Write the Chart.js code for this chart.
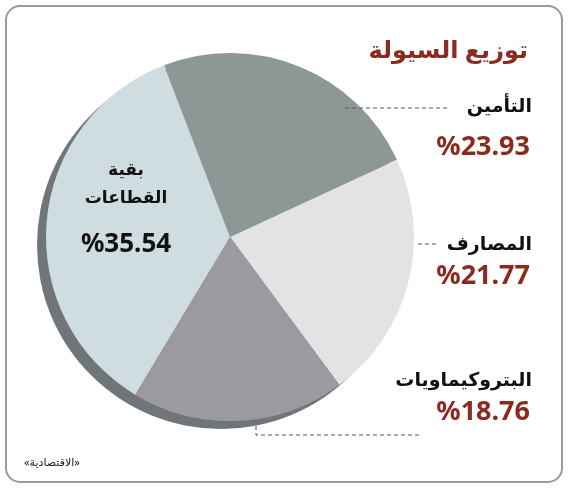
<!DOCTYPE html>
<html><head><meta charset="utf-8">
<script src="https://cdn.jsdelivr.net/npm/chart.js@4"></script>
<style>html,body{margin:0;padding:0;background:#fff}#wrap{width:569px;height:489px;position:relative}</style>
</head><body><div id="wrap"><canvas id="c" width="569" height="489"></canvas></div>
<script>
const sectors = ["التأمين", "المصارف", "البتروكيماويات", "بقية القطاعات"];
const shares = [23.93, 21.77, 18.76, 35.54];
const colors = ["#8d9896", "#e3e3e6", "#9b9b9f", "#cfdde1"];
const RED = "#8b2a1e";
const FONT = "'Noto Sans', 'DejaVu Sans', sans-serif";

const decor = {
  id: "decor",
  beforeDraw(chart) {
    const ctx = chart.ctx;
    ctx.save();
    ctx.fillStyle = "#fff";
    ctx.fillRect(0, 0, chart.width, chart.height);
    ctx.strokeStyle = "#9a9a9a";
    ctx.lineWidth = 2;
    ctx.beginPath();
    ctx.roundRect(6, 6, 556, 476, 14);
    ctx.stroke();
    ctx.restore();
  },
  beforeDatasetsDraw(chart) {
    const arc = chart.getDatasetMeta(0).data[0];
    const ctx = chart.ctx;
    ctx.save();
    ctx.fillStyle = "#6f7579";
    ctx.beginPath();
    ctx.arc(arc.x - 9, arc.y + 8, arc.outerRadius, 0, Math.PI * 2);
    ctx.fill();
    ctx.restore();
  },
  afterDraw(chart) {
    const ctx = chart.ctx;
    ctx.save();
    ctx.direction = "rtl";
    ctx.textAlign = "right";
    ctx.fillStyle = RED;
    ctx.font = "bold 24px " + FONT;
    ctx.fillText("توزيع السيولة", 528, 58);

    const rows = [
      { y: 112, py: 155 },
      { y: 250, py: 284 },
      { y: 386, py: 420 },
    ];
    rows.forEach((r, i) => {
      ctx.fillStyle = "#111";
      ctx.font = "bold 19px " + FONT;
      ctx.fillText(sectors[i], 532, r.y);
      ctx.fillStyle = RED;
      ctx.font = "bold 27px " + FONT;
      ctx.direction = "ltr";
      ctx.fillText("%" + shares[i].toFixed(2), 530, r.py);
      ctx.direction = "rtl";
    });

    ctx.fillStyle = "#111";
    ctx.textAlign = "center";
    ctx.font = "bold 17px " + FONT;
    ctx.fillText("بقية", 126, 175);
    ctx.fillText("القطاعات", 126, 203);
    ctx.font = "bold 26px " + FONT;
    ctx.direction = "ltr";
    ctx.fillText("%" + shares[3].toFixed(2), 126, 252);

    ctx.strokeStyle = "#555";
    ctx.lineWidth = 1;
    ctx.setLineDash([4, 3]);
    ctx.beginPath();
    ctx.moveTo(345, 108); ctx.lineTo(450, 108);
    ctx.moveTo(418, 244); ctx.lineTo(436, 244);
    ctx.moveTo(256, 426); ctx.lineTo(256, 435); ctx.lineTo(420, 435);
    ctx.stroke();
    ctx.setLineDash([]);

    ctx.direction = "rtl";
    ctx.textAlign = "left";
    ctx.fillStyle = "#222";
    ctx.font = "11px " + FONT;
    ctx.fillText("«الاقتصادية»", 24, 466);
    ctx.restore();
  },
};

new Chart(document.getElementById("c"), {
  type: "pie",
  data: {
    labels: sectors,
    datasets: [{ data: shares, backgroundColor: colors, borderWidth: 0 }],
  },
  options: {
    responsive: false,
    animation: false,
    rotation: -21,
    layout: { padding: { left: 46, right: 155, top: 53, bottom: 68 } },
    plugins: { legend: { display: false }, tooltip: { enabled: false } },
  },
  plugins: [decor],
});
</script></body></html>
